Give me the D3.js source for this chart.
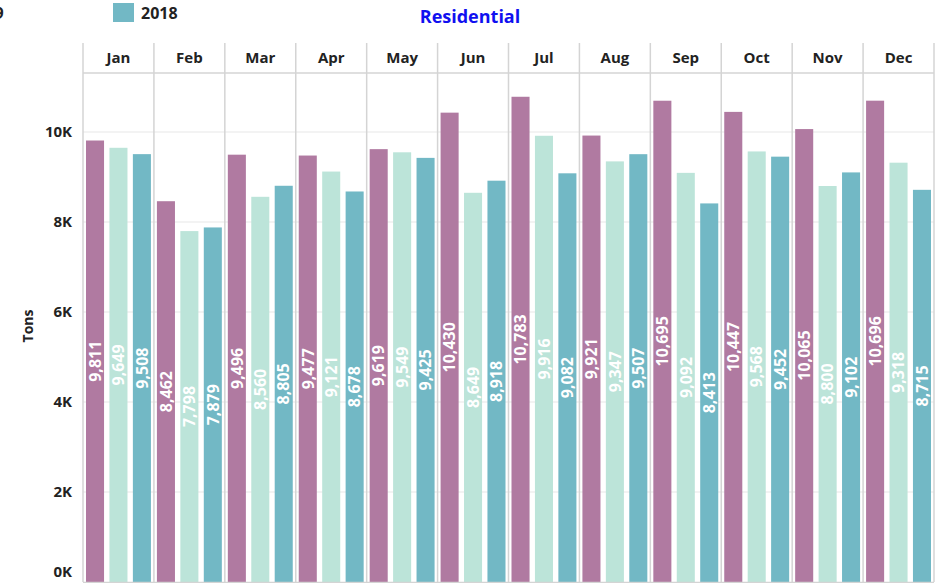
<!DOCTYPE html>
<html lang="en">
<head>
    <meta charset="UTF-8">
    <title>Residential</title>
    <script src="https://cdn.jsdelivr.net/npm/d3@7"></script>
    <style>
        body { margin: 0; background: #fff; }
        text { font-family: "Open Sans", "Noto Sans", sans-serif; font-weight: 700; }
    </style>
</head>
<body>
<svg width="940" height="583" id="chart"></svg>
<script>
    // data
    const months = ["Jan", "Feb", "Mar", "Apr", "May", "Jun", "Jul", "Aug", "Sep", "Oct", "Nov", "Dec"];
    const series = ["2020", "2019", "2018"];
    const s2020 = [9811, 8462, 9496, 9477, 9619, 10430, 10783, 9921, 10695, 10447, 10065, 10696];
    const s2019 = [9649, 7798, 8560, 9121, 9549, 8649, 9916, 9347, 9092, 9568, 8800, 9318];
    const s2018 = [9508, 7879, 8805, 8678, 9425, 8918, 9082, 9507, 8413, 9452, 9102, 8715];
    const yTicks = [0, 2000, 4000, 6000, 8000, 10000];
    const colors = ["#b07aa1", "#bce4d9", "#72b8c5"];

    const values = [s2020, s2019, s2018];
    const rows = [];
    months.forEach((m, i) => {
        series.forEach((s, j) => rows.push({month: m, key: s, value: values[j][i]}));
    });

    const svg = d3.select("#chart");
    const plotLeft = 83, plotRight = 934, headTop = 43, headerH = 30, plotBottom = 582;

    const x = d3.scaleBand().domain(months).range([plotLeft, plotRight]);
    const xi = d3.scaleBand().domain(series).range([3, x.bandwidth() - 3]).paddingInner(0.23);
    const y = d3.scaleLinear().domain([0, 10000]).range([plotBottom, 132]);
    const color = d3.scaleOrdinal().domain(series).range(colors);

    // gridlines
    svg.append("g").selectAll("line").data(yTicks.slice(1)).join("line")
        .attr("x1", plotLeft).attr("x2", plotRight)
        .attr("y1", d => y(d)).attr("y2", d => y(d))
        .attr("stroke", "#efefef").attr("stroke-width", 1.5);

    // y axis labels (the 0K one is pulled up to stay inside the view)
    svg.append("g").selectAll("text").data(yTicks).join("text")
        .attr("x", 72).attr("y", d => d === 0 ? y(d) - 10 : y(d))
        .attr("dy", "0.36em")
        .attr("text-anchor", "end")
        .attr("font-size", 15)
        .attr("fill", "#222")
        .text(d => d / 1000 + "K");

    svg.append("text")
        .attr("transform", "translate(28,326) rotate(-90)")
        .attr("text-anchor", "middle")
        .attr("dy", "0.36em")
        .attr("font-size", 14)
        .attr("fill", "#222")
        .text("Tons");

    // bars
    const bars = svg.append("g");
    bars.selectAll("rect").data(rows).join("rect")
        .attr("x", d => x(d.month) + xi(d.key))
        .attr("width", xi.bandwidth())
        .attr("y", d => y(d.value))
        .attr("height", d => y(0) - y(d.value))
        .attr("fill", d => color(d.key));

    bars.selectAll("text").data(rows).join("text")
        .attr("transform", d => "translate(" + (x(d.month) + xi(d.key) + xi.bandwidth() / 2) + "," + ((y(d.value) + y(0)) / 2) + ") rotate(-90)")
        .attr("text-anchor", "middle")
        .attr("dy", "0.36em")
        .attr("font-size", 16)
        .attr("fill", "#fff")
        .text(d => d3.format(",")(d.value));

    // month header and separators
    svg.append("g").selectAll("line").data(months.concat(["end"])).join("line")
        .attr("x1", d => d === "end" ? plotRight : x(d))
        .attr("x2", d => d === "end" ? plotRight : x(d))
        .attr("y1", headTop).attr("y2", plotBottom)
        .attr("stroke", "#d4d4d4").attr("stroke-width", 1.5);

    svg.append("line")
        .attr("x1", plotLeft).attr("x2", plotRight)
        .attr("y1", headTop + headerH).attr("y2", headTop + headerH)
        .attr("stroke", "#d4d4d4").attr("stroke-width", 1.5);
    svg.append("line")
        .attr("x1", plotLeft).attr("x2", plotRight)
        .attr("y1", plotBottom + 0.5).attr("y2", plotBottom + 0.5)
        .attr("stroke", "#d4d4d4").attr("stroke-width", 1.5);

    svg.append("g").selectAll("text").data(months).join("text")
        .attr("x", d => x(d) + x.bandwidth() / 2)
        .attr("y", headTop + headerH / 2)
        .attr("dy", "0.36em")
        .attr("text-anchor", "middle")
        .attr("font-size", 15)
        .attr("fill", "#222")
        .text(d => d);

    // title
    svg.append("text")
        .attr("x", 470).attr("y", 23)
        .attr("text-anchor", "middle")
        .attr("font-size", 18)
        .attr("fill", "#1010f0")
        .text("Residential");

    // legend (scrolled, only the last item fully visible)
    const legend = svg.append("g").selectAll("g").data(series).join("g")
        .attr("transform", (d, i) => "translate(" + (113 - (series.length - 1 - i) * 174) + ",3)");
    legend.append("rect")
        .attr("width", 21).attr("height", 19)
        .attr("fill", d => color(d));
    legend.append("text")
        .attr("x", 28).attr("y", 10)
        .attr("dy", "0.36em")
        .attr("font-size", 16)
        .attr("fill", "#222")
        .text(d => d);
</script>
</body>
</html>
